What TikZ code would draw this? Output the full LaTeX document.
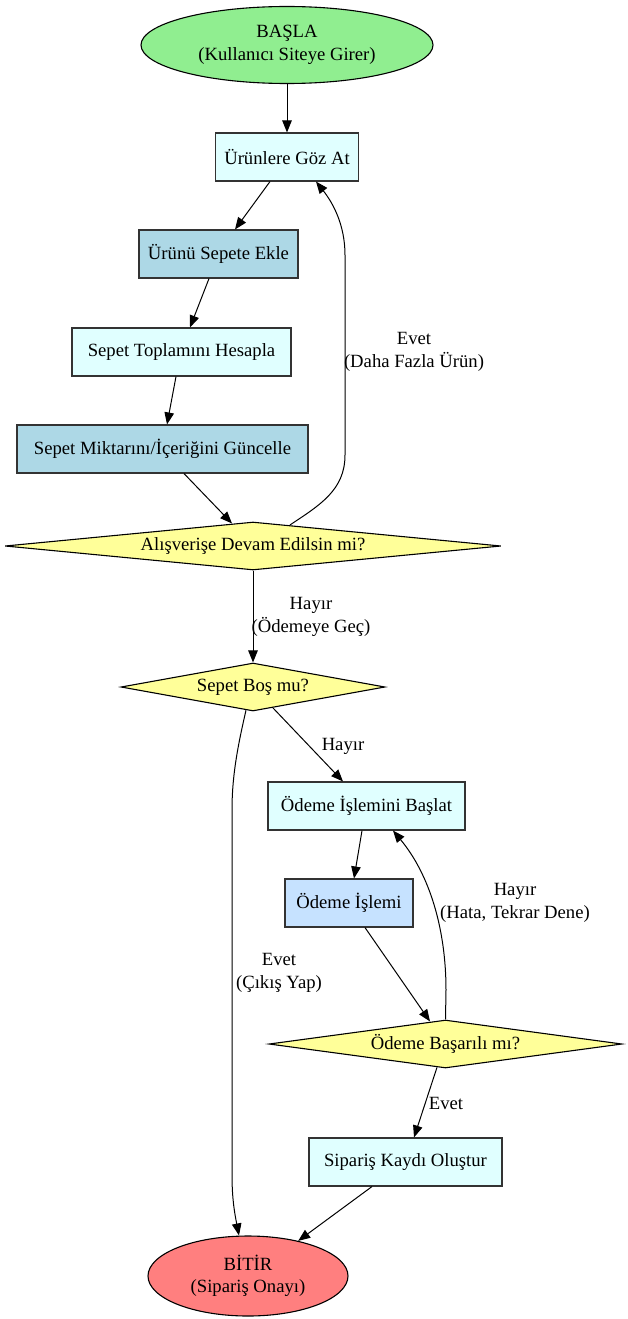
\documentclass[tikz,border=0pt]{standalone}
\usepackage{fontspec}
\setmainfont{Liberation Serif}
\usetikzlibrary{arrows.meta,shapes.geometric,calc}
\definecolor{cgreen}{HTML}{90EE90}
\definecolor{cred}{HTML}{FF7F7F}
\definecolor{ccyan}{HTML}{E0FFFF}
\definecolor{cblue}{HTML}{ADD8E6}
\definecolor{cpay}{HTML}{C6E2FF}
\definecolor{cyel}{HTML}{FFFF99}
\begin{document}
\begin{tikzpicture}[x=1pt,y=-1pt,
  every node/.style={font=\fontsize{18.67pt}{22.4pt}\selectfont},
  box/.style={rectangle,draw=black!80,line width=1.1pt,minimum height=48pt,inner sep=0pt},
  oval/.style={ellipse,draw=black,line width=1.1pt,inner sep=0pt,align=center},
  dia/.style={diamond,draw=black,line width=1.1pt,inner sep=0pt,aspect=1,minimum height=48pt,fill=cyel},
  lbl/.style={align=center,inner sep=0pt},
  arr/.style={line width=1pt,-{Triangle[length=12pt,width=9.5pt]}}]
\useasboundingbox (0,0) rectangle (627,1319);

% nodes
\node[oval,fill=cgreen,minimum width=292pt,minimum height=77pt] (start) at (287,45) {BAŞLA\\(Kullanıcı Siteye Girer)};
\node[box,fill=ccyan,minimum width=143pt] (n1) at (287,157) {Ürünlere Göz At};
\node[box,fill=cblue,minimum width=159pt] (n2) at (218.5,254) {Ürünü Sepete Ekle};
\node[box,fill=ccyan,minimum width=219pt] (n3) at (181.5,352) {Sepet Toplamını Hesapla};
\node[box,fill=cblue,minimum width=291pt] (n4) at (162.5,449) {Sepet Miktarını/İçeriğini Güncelle};
\node[dia,minimum width=496pt] (d1) at (253,546) {\makebox[0pt]{Alışverişe Devam Edilsin mi?}};
\node[dia,minimum width=264pt] (d2) at (253,687) {\makebox[0pt]{Sepet Boş mu?}};
\node[box,fill=ccyan,minimum width=197pt] (n5) at (366.5,806) {Ödeme İşlemini Başlat};
\node[box,fill=cpay,minimum width=128pt] (n6) at (349,903) {Ödeme İşlemi};
\node[dia,minimum width=353pt] (d3) at (445.5,1044) {\makebox[0pt]{Ödeme Başarılı mı?}};
\node[box,fill=ccyan,minimum width=193pt] (n7) at (405.5,1162) {Sipariş Kaydı Oluştur};
\node[oval,fill=cred,minimum width=200pt,minimum height=80pt] (end) at (248,1276) {BİTİR\\(Sipariş Onayı)};

% edges
\draw[arr] (start.south) -- (n1.north);
\draw[arr] ([xshift=-17pt]n1.south) -- ([xshift=16.5pt]n2.north);
\draw[arr] ([xshift=-9.5pt]n2.south) -- ([xshift=8.5pt]n3.north);
\draw[arr] ([xshift=-5.5pt]n3.south) -- ([xshift=4.5pt]n4.north);
\draw[arr] ([xshift=21.5pt]n4.south) -- ([xshift=-21pt,yshift=-2pt]d1.north);
\draw[arr] ([xshift=37pt,yshift=-3.5pt]d1.north) .. controls (320,505) and (345,490) .. (345,455)
   -- (345,255) .. controls (345,225) and (333,203) .. ([xshift=29pt]n1.south);
\draw[arr] (d1.south) -- (d2.north);
\draw[arr] ([xshift=20pt,yshift=3.6pt]d2.south) -- ([xshift=-23.5pt]n5.north);
\draw[arr] ([xshift=-7pt,yshift=1.3pt]d2.south) .. controls (238,745) and (232,775) .. (232,810)
   -- (232,1175) .. controls (232,1200) and (235,1215) .. ([xshift=-9pt]end.north);
\draw[arr] ([xshift=-4.5pt]n5.south) -- ([xshift=5pt]n6.north);
\draw[arr] ([xshift=16pt]n6.south) -- ([xshift=-15.5pt,yshift=-2pt]d3.north);
\draw[arr] (d3.north) -- (446,990) .. controls (446,930) and (430,875) .. ([xshift=26.5pt]n5.south);
\draw[arr] ([xshift=-8.5pt,yshift=1.2pt]d3.south) -- ([xshift=8.5pt]n7.north);
\draw[arr] ([xshift=-33.5pt]n7.south) -- (end.35);

% labels
\node[lbl] (l1) at (414,352) {Evet\\(Daha Fazla Ürün)};
\node[lbl] (l2) at (311,617) {Hayır\\(Ödemeye Geç)};
\node[lbl] (l3) at (343,746) {Hayır};
\node[lbl] (l4) at (515,903) {Hayır\\(Hata, Tekrar Dene)};
\node[lbl] (l5) at (279,973) {Evet\\(Çıkış Yap)};
\node[lbl] (l6) at (446,1103) {Evet};
\end{tikzpicture}
\end{document}
